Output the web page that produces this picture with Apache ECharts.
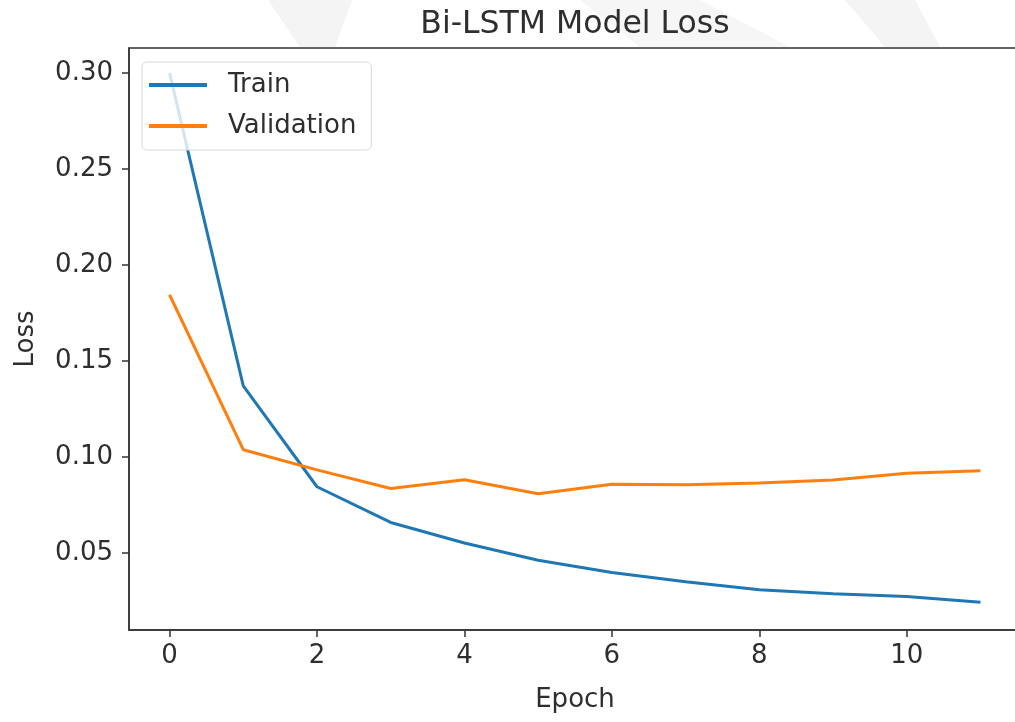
<!DOCTYPE html>
<html>
<head>
<meta charset="utf-8">
<style>html,body{margin:0;padding:0;background:#fff;overflow:hidden;width:1015px;height:722px}#c{width:1025px;height:722px}</style>
<script src="https://cdn.jsdelivr.net/npm/echarts@6/dist/echarts.min.js"></script>
</head>
<body>
<div id="c"></div>
<script>
const epochs = [0,1,2,3,4,5,6,7,8,9,10,11];
const trainLoss = [0.300,0.137,0.0845,0.0659,0.0552,0.0462,0.0398,0.0350,0.0309,0.0288,0.0274,0.0243];
const valLoss = [0.1845,0.1038,0.0933,0.0836,0.0882,0.0809,0.0858,0.0855,0.0865,0.0880,0.0915,0.0929];
const xTicks = [0,2,4,6,8,10];
const yTicks = [0.05,0.10,0.15,0.20,0.25,0.30];

const font = 'DejaVu Sans';
const txt = '#2e2e2e';
const chart = echarts.init(document.getElementById('c'));
chart.setOption({
  animation:false,
  graphic:[
    {type:'polygon',z:-10,silent:true,shape:{points:[[268,0],[352,0],[335,47],[300,47]]},style:{fill:'#f4f4f4'}},
    {type:'polygon',z:-10,silent:true,shape:{points:[[580,0],[700,0],[790,47],[640,47]]},style:{fill:'#f6f6f6'}},
    {type:'polygon',z:-10,silent:true,shape:{points:[[845,0],[915,0],[940,47],[885,47]]},style:{fill:'#f4f4f4'}}
  ],
  title:{text:'Bi-LSTM Model Loss',left:570,top:4,textAlign:'center',
    textStyle:{fontFamily:font,fontSize:31.5,fontWeight:'normal',color:txt}},
  grid:{left:129,top:48,right:4,bottom:92,outerBoundsMode:'none',containLabel:false,show:true,borderColor:'#333',borderWidth:1.5,backgroundColor:'transparent'},
  legend:{left:142,top:62,orient:'vertical',itemWidth:58,itemHeight:4,itemGap:15,icon:'rect',
    padding:[10,15,11,7],borderColor:'#d8d8d8',borderWidth:1,borderRadius:5,backgroundColor:'rgba(255,255,255,0.8)',
    textStyle:{fontFamily:font,fontSize:26,color:txt,padding:[0,0,0,16]},
    data:['Train','Validation']},
  xAxis:{type:'value',min:-0.55,max:11.55,name:'Epoch',nameLocation:'middle',nameGap:57,
    nameTextStyle:{fontFamily:font,fontSize:26,color:txt},
    axisLine:{show:true,onZero:false,lineStyle:{color:'#333',width:1.5}},
    axisTick:{show:true,length:7,lineStyle:{color:'#333',width:1.5},customValues:xTicks},
    axisLabel:{fontFamily:font,fontSize:26,color:txt,margin:13,customValues:xTicks},
    splitLine:{show:false}},
  yAxis:{type:'value',min:0.0099,max:0.313,name:'Loss',nameLocation:'middle',nameGap:90,
    nameTextStyle:{fontFamily:font,fontSize:26,color:txt},
    axisLine:{show:true,onZero:false,lineStyle:{color:'#333',width:1.5}},
    axisTick:{show:true,length:7,lineStyle:{color:'#333',width:1.5},customValues:yTicks},
    axisLabel:{fontFamily:font,fontSize:26,color:txt,margin:16,customValues:yTicks,
      formatter:v=>v.toFixed(2)},
    splitLine:{show:false}},
  series:[
    {name:'Train',type:'line',data:epochs.map((e,i)=>[e,trainLoss[i]]),showSymbol:false,
      lineStyle:{color:'#1f77b4',width:3},itemStyle:{color:'#1f77b4'},z:2},
    {name:'Validation',type:'line',data:epochs.map((e,i)=>[e,valLoss[i]]),showSymbol:false,
      lineStyle:{color:'#ff7f0e',width:3},itemStyle:{color:'#ff7f0e'},z:3}
  ]
});
</script>
</body>
</html>
